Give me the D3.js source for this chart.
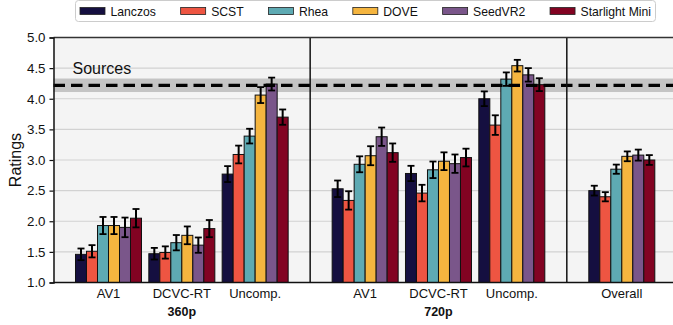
<!DOCTYPE html>
<html>
<head>
<meta charset="utf-8">
<script src="https://cdn.jsdelivr.net/npm/d3@7"></script>
<style>
  html, body { margin: 0; padding: 0; background: #fff; }
  svg { display: block; font-family: "Liberation Sans", Arial, Helvetica, sans-serif; }
</style>
</head>
<body>
<svg id="chart" width="673" height="325"></svg>
<script>
// Methods compared (legend order) and their colours
const methods = ["Lanczos", "SCST", "Rhea", "DOVE", "SeedVR2", "Starlight Mini"];
const colors = ["#150f40", "#ee5542", "#5eaab3", "#f5b53f", "#7a568a", "#820322"];

// Codec conditions inside each resolution panel
const codecs = ["AV1", "DCVC-RT", "Uncomp."];
const resolutions = ["360p", "720p"];

// Mean ratings, one row per codec, one column per method
const ratings360 = [
  [1.46, 1.51, 1.93, 1.93, 1.90, 2.05],
  [1.47, 1.49, 1.65, 1.77, 1.61, 1.88],
  [2.77, 3.09, 3.39, 4.06, 4.24, 3.70]
];
const errors360 = [
  [0.095, 0.10, 0.14, 0.14, 0.16, 0.15],
  [0.095, 0.10, 0.125, 0.145, 0.125, 0.14],
  [0.13, 0.145, 0.12, 0.13, 0.105, 0.125]
];
const ratings720 = [
  [2.53, 2.34, 2.93, 3.07, 3.38, 3.12],
  [2.78, 2.46, 2.84, 2.98, 2.94, 3.04],
  [4.00, 3.57, 4.32, 4.54, 4.39, 4.23]
];
const errors720 = [
  [0.135, 0.15, 0.13, 0.155, 0.15, 0.15],
  [0.125, 0.135, 0.135, 0.145, 0.15, 0.145],
  [0.12, 0.16, 0.11, 0.095, 0.11, 0.105]
];
const ratingsOverall = [2.50, 2.40, 2.85, 3.06, 3.08, 3.00];
const errorsOverall = [0.08, 0.075, 0.075, 0.08, 0.09, 0.08];

// Rating of the source videos and its confidence band
const sourceRating = 4.22;
const sourceBand = 0.11;

const yTicks = [1.0, 1.5, 2.0, 2.5, 3.0, 3.5, 4.0, 4.5, 5.0];

const svg = d3.select("#chart");
const plotTop = 37.5, plotBottom = 282.5, plotLeft = 53.5;
const unit = 73.33;      // pixels per group slot
const barW = 0.15;       // bar width in group units

const y = d3.scaleLinear().domain([1, 5]).range([plotBottom, plotTop]);

// Panels: each with its own x scale over group index
const panels = [
  { groups: codecs, values: ratings360, errs: errors360, title: resolutions[0], domain: [-0.75, 2.75] },
  { groups: codecs, values: ratings720, errs: errors720, title: resolutions[1], domain: [-0.75, 2.75] },
  { groups: ["Overall"], values: [ratingsOverall], errs: [errorsOverall], title: null, domain: [-0.75, 0.75] }
];
let x0 = plotLeft;
panels.forEach(p => {
  const w = (p.domain[1] - p.domain[0]) * unit;
  p.x = d3.scaleLinear().domain(p.domain).range([x0, x0 + w]);
  x0 += w;
});
const plotRight = x0;

// Plot background
svg.append("rect")
  .attr("x", plotLeft).attr("y", plotTop)
  .attr("width", plotRight - plotLeft).attr("height", plotBottom - plotTop)
  .attr("fill", "#f4f4f4");

// Horizontal grid
svg.append("g").selectAll("line")
  .data(yTicks.filter(t => t > 1 && t < 5))
  .join("line")
  .attr("x1", plotLeft).attr("x2", plotRight)
  .attr("y1", d => y(d)).attr("y2", d => y(d))
  .attr("stroke", "#d2d2d2").attr("stroke-width", 1.2);

// Source reference band
svg.append("rect")
  .attr("x", plotLeft).attr("width", plotRight - plotLeft)
  .attr("y", y(sourceRating + sourceBand))
  .attr("height", y(sourceRating - sourceBand) - y(sourceRating + sourceBand))
  .attr("fill", "#bfbfbf").attr("opacity", 0.9);

// Bars and error bars
panels.forEach(p => {
  const g = svg.append("g");
  p.groups.forEach((grp, gi) => {
    methods.forEach((m, mi) => {
      const v = p.values[gi][mi];
      const e = p.errs[gi][mi];
      const cx = gi + (mi - 2.5) * barW;
      const xa = p.x(cx - barW / 2), xb = p.x(cx + barW / 2);
      g.append("rect")
        .attr("x", xa).attr("y", y(v))
        .attr("width", xb - xa).attr("height", y(1) - y(v))
        .attr("fill", colors[mi])
        .attr("stroke", "#111").attr("stroke-width", 1);
      const xc = p.x(cx);
      g.append("line")
        .attr("x1", xc).attr("x2", xc)
        .attr("y1", y(v - e)).attr("y2", y(v + e))
        .attr("stroke", "#000").attr("stroke-width", 2);
      [v - e, v + e].forEach(t => {
        g.append("line")
          .attr("x1", xc - 3.5).attr("x2", xc + 3.5)
          .attr("y1", y(t)).attr("y2", y(t))
          .attr("stroke", "#000").attr("stroke-width", 1.8);
      });
    });
    // Group label
    svg.append("text")
      .attr("x", p.x(gi)).attr("y", 298)
      .attr("text-anchor", "middle")
      .attr("font-size", 13).attr("fill", "#111")
      .text(grp);
  });
  if (p.title) {
    const xr = p.x.range();
    svg.append("text")
      .attr("x", (xr[0] + xr[1]) / 2).attr("y", 316)
      .attr("text-anchor", "middle")
      .attr("font-size", 12.5).attr("font-weight", "bold").attr("fill", "#111")
      .text(p.title);
  }
});

// Source reference line
svg.append("line")
  .attr("x1", plotLeft).attr("x2", plotRight)
  .attr("y1", y(sourceRating)).attr("y2", y(sourceRating))
  .attr("stroke", "#000").attr("stroke-width", 3.2)
  .attr("stroke-dasharray", "11.5,6");
svg.append("text")
  .attr("x", 72.5).attr("y", 73.5)
  .attr("font-size", 16).attr("fill", "#111")
  .text("Sources");

// Panel separators
panels.slice(1).forEach(p => {
  const xs = p.x.range()[0];
  svg.append("line")
    .attr("x1", xs).attr("x2", xs).attr("y1", plotTop).attr("y2", plotBottom)
    .attr("stroke", "#111").attr("stroke-width", 1.5);
});

// Frame: top edge, left and bottom spines
svg.append("line").attr("x1", plotLeft).attr("x2", plotRight)
  .attr("y1", plotTop).attr("y2", plotTop)
  .attr("stroke", "#333").attr("stroke-width", 1.5);
svg.append("line").attr("x1", plotLeft).attr("x2", plotRight)
  .attr("y1", plotBottom).attr("y2", plotBottom)
  .attr("stroke", "#111").attr("stroke-width", 1.5);

// Y axis
const yAxis = d3.axisLeft(y)
  .tickValues(yTicks)
  .tickFormat(d3.format(".1f"))
  .tickSizeOuter(0).tickSize(4).tickPadding(4);
const ya = svg.append("g").attr("transform", `translate(${plotLeft},0)`).call(yAxis);
ya.select(".domain").attr("stroke", "#111").attr("stroke-width", 1.5);
ya.selectAll(".tick line").attr("stroke", "#111").attr("stroke-width", 1.2);
ya.selectAll(".tick text")
  .attr("font-size", 13.3).attr("fill", "#111")
  .attr("font-family", "'Liberation Sans', Arial, sans-serif");

svg.append("text")
  .attr("transform", `translate(21,160) rotate(-90)`)
  .attr("text-anchor", "middle")
  .attr("font-size", 16).attr("fill", "#111")
  .text("Ratings");

// Legend: entries spread evenly between a fixed start and end
const legend = svg.append("g");
const legBox = legend.append("rect")
  .attr("x", 75.5).attr("y", 0.5).attr("rx", 3)
  .attr("height", 21).attr("fill", "#fff")
  .attr("stroke", "#cccccc").attr("stroke-width", 1);
const legStart = 80, legEnd = 651, swatchW = 25, textOff = 30.5;
const labels = methods.map(m => legend.append("text")
  .attr("y", 15.5).attr("font-size", 12.2).attr("fill", "#111").text(m));
const widths = labels.map(t => t.node().getComputedTextLength());
const gap = (legEnd - legStart - methods.length * textOff - d3.sum(widths)) / (methods.length - 1);
let lx = legStart;
methods.forEach((m, i) => {
  legend.append("rect")
    .attr("x", lx).attr("y", 7.5)
    .attr("width", swatchW).attr("height", 7)
    .attr("fill", colors[i]).attr("stroke", "#222").attr("stroke-width", 0.8);
  labels[i].attr("x", lx + textOff);
  lx += textOff + widths[i] + gap;
});
legBox.attr("width", legEnd + 4.5 - 75.5);
</script>
</body>
</html>
